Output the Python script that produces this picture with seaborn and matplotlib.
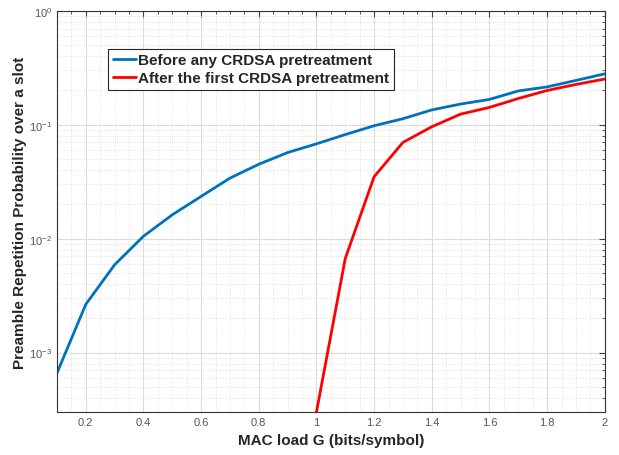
import numpy as np
import pandas as pd
import matplotlib
matplotlib.use('Agg')
import matplotlib.pyplot as plt
import seaborn as sns

# values
g_before = [0.1, 0.2, 0.3, 0.4, 0.5, 0.6, 0.7, 0.8, 0.9, 1.0,
            1.1, 1.2, 1.3, 1.4, 1.5, 1.6, 1.7, 1.8, 1.9, 2.0]
p_before = [6.6e-4, 2.65e-3, 5.9e-3, 1.05e-2, 1.62e-2, 2.35e-2, 3.4e-2, 4.5e-2, 5.7e-2, 6.8e-2,
            8.2e-2, 9.8e-2, 0.113, 0.135, 0.152, 0.167, 0.198, 0.215, 0.245, 0.28]
g_after = [1.0, 1.1, 1.2, 1.3, 1.4, 1.5, 1.6, 1.7, 1.8, 1.9, 2.0]
p_after = [3.0e-4, 6.7e-3, 3.5e-2, 0.07, 0.096, 0.124, 0.142, 0.17, 0.2, 0.226, 0.252]

labels = ['Before any CRDSA pretreatment', 'After the first CRDSA pretreatment']

df = pd.concat([
    pd.DataFrame({'G': g_before, 'P': p_before, 'curve': labels[0]}),
    pd.DataFrame({'G': g_after, 'P': p_after, 'curve': labels[1]}),
])

sns.set_style('white')
plt.rcParams['font.family'] = ['Liberation Sans', 'DejaVu Sans']

fig = plt.figure(figsize=(6.19, 4.56), dpi=100)
ax = fig.add_axes([0.092, 0.094, 0.885, 0.880])

sns.lineplot(data=df, x='G', y='P', hue='curve', hue_order=labels,
             palette=['#0072BD', '#FF0000'], linewidth=2, ax=ax, sort=False)

ax.set_yscale('log')
ax.set_xlim(0.1, 2)
ax.set_ylim(3e-4, 1)
ax.set_xticks([0.2, 0.4, 0.6, 0.8, 1, 1.2, 1.4, 1.6, 1.8, 2])
ax.set_xticklabels(['0.2', '0.4', '0.6', '0.8', '1', '1.2', '1.4', '1.6', '1.8', '2'])
ax.set_xticks(np.arange(0.1, 2.0, 0.05), minor=True)

ax.grid(True, which='major', color='#dcdcdc', linewidth=0.8)
ax.grid(True, which='minor', color='#d8d8d8', linewidth=0.6, linestyle=':')
ax.set_axisbelow(True)

ax.tick_params(which='both', direction='in', top=True, right=True,
               colors='#404040', labelsize=8, labelcolor='#555555')
ax.tick_params(which='major', length=4)
ax.tick_params(which='minor', length=2)
for s in ax.spines.values():
    s.set_color('#333333')
    s.set_linewidth(0.8)

ax.set_xlabel('MAC load G (bits/symbol)', fontsize=11, fontweight='bold', color='#262626')
ax.set_ylabel('Preamble Repetition Probability over a slot', fontsize=11,
              fontweight='bold', color='#262626', labelpad=1.5)

leg = ax.legend(loc='upper left', bbox_to_anchor=(0.080, 0.925), frameon=True,
                fancybox=False, edgecolor='#262626', framealpha=1,
                prop={'weight': 'bold', 'size': 11}, handlelength=1.5,
                handletextpad=0.15, borderpad=0.3, labelspacing=0.25)
leg.get_frame().set_linewidth(0.8)

fig.savefig('out.png', dpi=100)
